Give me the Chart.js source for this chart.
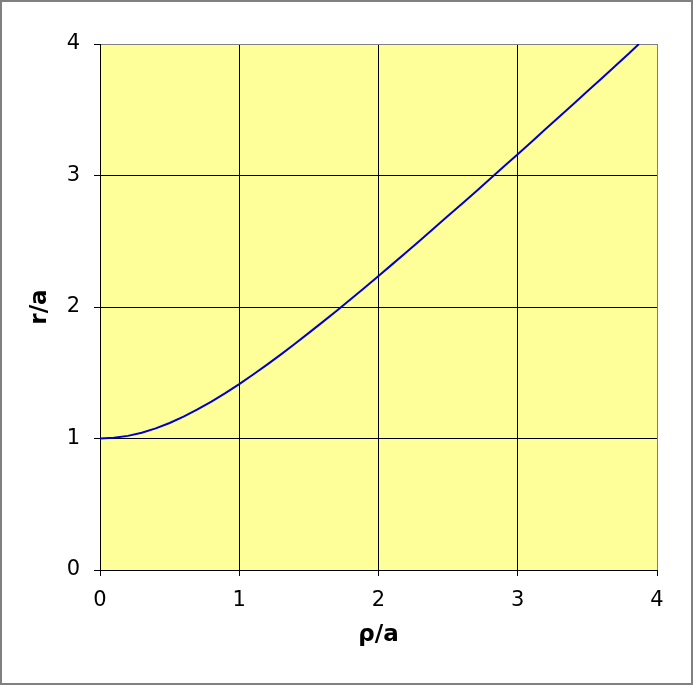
<!DOCTYPE html>
<html>
<head>
<meta charset="utf-8">
<script src="https://cdn.jsdelivr.net/npm/chart.js@4.4.1/dist/chart.umd.min.js"></script>
<style>
  html, body { margin: 0; padding: 0; background: #fff; }
  #wrap { width: 693px; height: 685px; }
</style>
</head>
<body>
<div id="wrap"><canvas id="rhoChart" width="693" height="685"></canvas></div>
<script>
// values, r/a against rho/a
const rhoValues = [0, 0.1, 0.2, 0.3, 0.4, 0.5, 0.6, 0.7, 0.8, 0.9,
                   1.0, 1.1, 1.2, 1.3, 1.4, 1.5, 1.6, 1.7, 1.8, 1.9,
                   2.0, 2.1, 2.2, 2.3, 2.4, 2.5, 2.6, 2.7, 2.8, 2.9,
                   3.0, 3.1, 3.2, 3.3, 3.4, 3.5, 3.6, 3.7, 3.8, 3.87];
const rValues = [1.000, 1.005, 1.020, 1.044, 1.077, 1.118, 1.166, 1.221, 1.281, 1.345,
                 1.414, 1.487, 1.562, 1.640, 1.720, 1.803, 1.887, 1.972, 2.059, 2.147,
                 2.236, 2.326, 2.417, 2.508, 2.600, 2.693, 2.786, 2.879, 2.973, 3.068,
                 3.162, 3.257, 3.353, 3.448, 3.544, 3.640, 3.736, 3.833, 3.929, 4.000];
const xTicks = [0, 1, 2, 3, 4];
const yTicks = [0, 1, 2, 3, 4];

const points = rhoValues.map((x, i) => ({ x: x, y: rValues[i] }));

// yellow plot area and grey frame round the whole picture
const backdrop = {
    id: 'backdrop',
    beforeDraw(chart) {
        const { ctx, chartArea: a } = chart;
        ctx.save();
        ctx.fillStyle = '#fff';
        ctx.fillRect(0, 0, chart.width, chart.height);
        ctx.fillStyle = '#FFFF99';
        ctx.fillRect(a.left, a.top, a.right - a.left, a.bottom - a.top);
        ctx.strokeStyle = '#808080';
        ctx.lineWidth = 2;
        ctx.strokeRect(1, 1, chart.width - 2, chart.height - 2);
        ctx.restore();
    }
};

const tickFont = { family: 'DejaVu Sans', size: 21 };
const titleFont = { family: 'DejaVu Sans', size: 23, weight: 'bold' };

new Chart(document.getElementById('rhoChart'), {
    type: 'scatter',
    data: {
        datasets: [{
            data: points,
            showLine: true,
            borderColor: '#0000CC',
            borderWidth: 2,
            pointRadius: 0,
            tension: 0
        }]
    },
    options: {
        responsive: false,
        animation: false,
        layout: { padding: { left: 0, top: 44, right: 36, bottom: 0 } },
        plugins: { legend: { display: false }, tooltip: { enabled: false } },
        scales: {
            x: {
                type: 'linear',
                min: 0, max: 4,
                afterBuildTicks: s => { s.ticks = xTicks.map(v => ({ value: v })); },
                afterFit: s => { s.height = 115; },
                ticks: { font: tickFont, color: '#000', padding: 12, maxRotation: 0 },
                grid: {
                    color: c => c.tick && c.tick.value === 4 ? '#808080' : '#000',
                    lineWidth: 1,
                    tickLength: 6,
                    tickColor: '#000'
                },
                border: { display: true, color: '#000', width: 1 },
                title: { display: true, text: 'ρ/a', font: titleFont, color: '#000', padding: { top: 0, bottom: 36 } }
            },
            y: {
                type: 'linear',
                min: 0, max: 4,
                afterBuildTicks: s => { s.ticks = yTicks.map(v => ({ value: v })); },
                afterFit: s => { s.width = 100; },
                ticks: { font: tickFont, color: '#000', padding: 14 },
                grid: {
                    color: c => c.tick && c.tick.value === 4 ? '#808080' : '#000',
                    lineWidth: 1,
                    tickLength: 6,
                    tickColor: '#000'
                },
                border: { display: true, color: '#000', width: 1 },
                title: { display: true, text: 'r/a', font: titleFont, color: '#000', padding: { top: 26, bottom: 0 } }
            }
        }
    },
    plugins: [backdrop]
});
</script>
</body>
</html>
